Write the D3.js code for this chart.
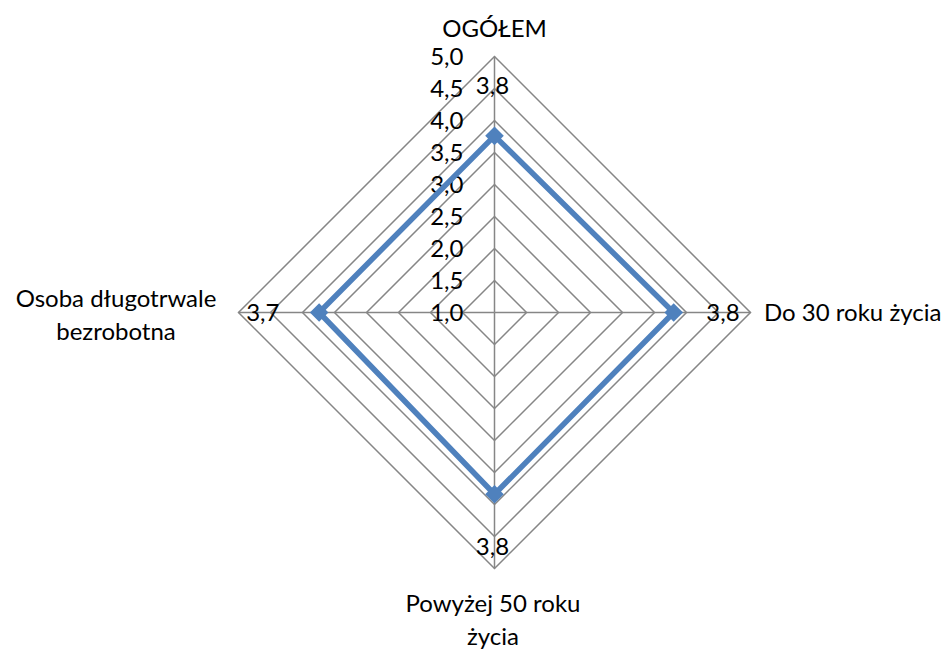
<!DOCTYPE html>
<html><head><meta charset="utf-8">
<script src="https://cdn.jsdelivr.net/npm/d3@7"></script>
<style>body{margin:0;background:#fff}svg{display:block}text{font-family:Lato,"Open Sans","Liberation Sans",sans-serif;fill:#000}</style>
</head><body>
<svg id="c" width="952" height="649"></svg>
<script>
const categories = ["OGÓŁEM", "Do 30 roku życia", "Powyżej 50 roku życia", "Osoba długotrwale bezrobotna"];
const categoryLines = [["OGÓŁEM"], ["Do 30 roku życia"], ["Powyżej 50 roku", "życia"], ["Osoba długotrwale", "bezrobotna"]];
const values = [3.76, 3.80, 3.84, 3.74];
const ticks = [1.0, 1.5, 2.0, 2.5, 3.0, 3.5, 4.0, 4.5, 5.0];

const svg = d3.select("#c");
const cx = 494.5, cy = 312.5, R = 256;
const r = d3.scaleLinear().domain([1, 5]).range([0, R]);
const fmt = v => d3.format(".1f")(v).replace(".", ",");
const ang = i => -Math.PI / 2 + i * 2 * Math.PI / categories.length;
const pt = (i, v) => [cx + r(v) * Math.cos(ang(i)), cy + r(v) * Math.sin(ang(i))];
const FS = 24;

const g = svg.append("g");
ticks.slice(1).forEach(t => {
  g.append("polygon")
    .attr("points", categories.map((c, i) => pt(i, t).join(",")).join(" "))
    .attr("fill", "none").attr("stroke", "#868686").attr("stroke-width", 1.5);
});
categories.forEach((c, i) => {
  const [x, y] = pt(i, 5);
  g.append("line").attr("x1", cx).attr("y1", cy).attr("x2", x).attr("y2", y)
    .attr("stroke", "#868686").attr("stroke-width", 1.5);
});
ticks.forEach(t => {
  g.append("text").attr("x", cx - 31).attr("y", cy - r(t)).attr("dy", "0.36em")
    .attr("text-anchor", "end").attr("font-size", FS).text(fmt(t));
});
const line = d3.line().curve(d3.curveLinearClosed);
g.append("path").attr("d", line(values.map((v, i) => pt(i, v))))
  .attr("fill", "none").attr("stroke", "#4F81BD").attr("stroke-width", 5.5).attr("stroke-linejoin", "miter");
values.forEach((v, i) => {
  const [x, y] = pt(i, v);
  g.append("path").attr("d", d3.symbol(d3.symbolDiamond2 || d3.symbolDiamond, 220)())
    .attr("transform", `translate(${x},${y})`)
    .attr("fill", "#4F81BD");
});
const lblPos = [[cx - 2, cy - r(4.55)], [cx + r(4.57), cy], [cx - 2, cy + r(4.65)], [cx - r(4.62), cy]];
values.forEach((v, i) => {
  g.append("text").attr("x", lblPos[i][0]).attr("y", lblPos[i][1]).attr("dy", "0.36em")
    .attr("text-anchor", "middle").attr("font-size", FS).text(fmt(v));
});
const catPos = [[cx, 28, "middle"], [764, cy, "start"], [493, 603, "middle"], [116, 298, "middle"]];
categoryLines.forEach((lines, i) => {
  const t = g.append("text").attr("x", catPos[i][0]).attr("y", catPos[i][1])
    .attr("text-anchor", catPos[i][2]).attr("font-size", FS);
  lines.forEach((l, k) => t.append("tspan").attr("x", catPos[i][0]).attr("y", catPos[i][1] + k * 33).attr("dy", "0.36em").text(l));
});
</script>
</body></html>
